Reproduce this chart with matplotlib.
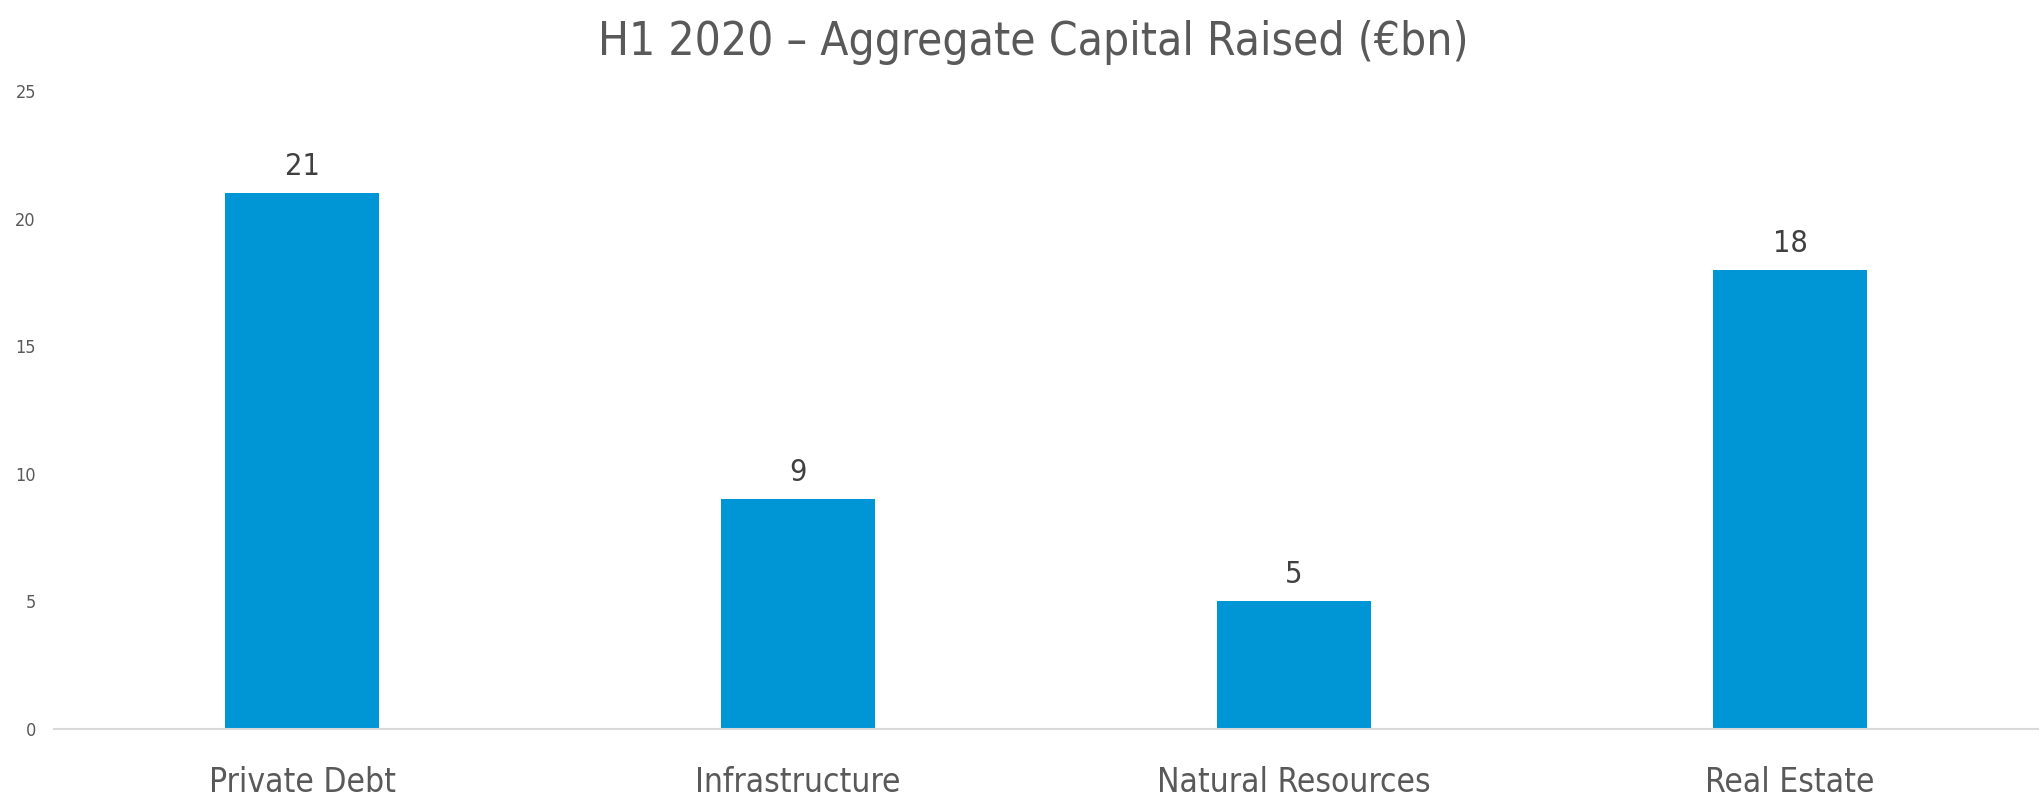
import matplotlib
matplotlib.use("Agg")
import matplotlib.pyplot as plt

categories = ["Private Debt", "Infrastructure", "Natural Resources", "Real Estate"]
capital_raised = [21, 9, 5, 18]
y_ticks = [0, 5, 10, 15, 20, 25]

plt.rcParams['font.family'] = ['DejaVu Sans']
plt.rcParams['font.stretch'] = 'condensed'

fig = plt.figure(figsize=(20.42, 7.97), dpi=100)
ax = fig.add_axes([54 / 2042, 68 / 797, (2038 - 54) / 2042, (729 - 91) / 797])

bars = ax.bar(categories, capital_raised, width=0.31, color="#0096d6")
for b, v in zip(bars, capital_raised):
    ax.annotate(f"{v}", (b.get_x() + b.get_width() / 2, v), xytext=(0, 13),
                textcoords="offset points", ha="center", va="baseline",
                fontsize=22, color="#404040")

ax.set_xlim(-0.5, len(categories) - 0.5)
ax.set_ylim(0, 25)
ax.set_yticks(y_ticks)
ax.tick_params(axis="y", length=0, pad=13, labelsize=13, labelcolor="#595959")
ax.tick_params(axis="x", length=0, pad=27, labelsize=24, labelcolor="#595959")
for s in ["top", "right", "left"]:
    ax.spines[s].set_visible(False)
ax.spines["bottom"].set_color("#d9d9d9")
ax.spines["bottom"].set_linewidth(1.5)

fig.text(1033 / 2042, 1 - 55 / 797, "H1 2020 \u2013 Aggregate Capital Raised (\u20acbn)",
         ha="center", va="baseline", fontsize=33, color="#595959")

fig.savefig("out.png", dpi=100, facecolor="white")
